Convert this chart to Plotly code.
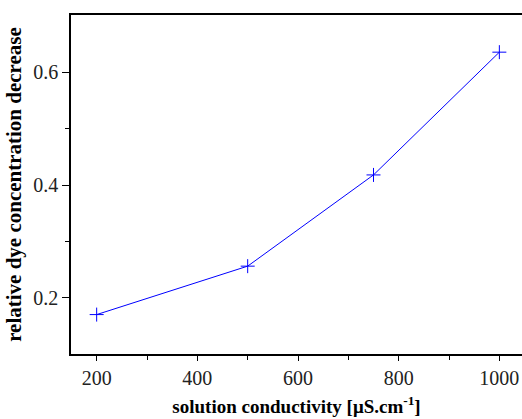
import plotly.graph_objects as go

conductivity = [200, 500, 750, 1000]
dye_decrease = [0.170, 0.256, 0.418, 0.636]

x_major = [200, 400, 600, 800, 1000]
y_major = [0.2, 0.4, 0.6]

fig = go.Figure()
fig.add_trace(go.Scatter(
    x=conductivity, y=dye_decrease, mode="lines+markers",
    line=dict(color="#0000ff", width=1),
    marker=dict(symbol="cross-thin", size=10, line=dict(color="#0000ff", width=1)),
    showlegend=False,
))

font = "Liberation Serif, Times New Roman, serif"
fig.update_layout(
    width=522, height=419,
    margin=dict(l=71, r=0, t=15, b=65),
    paper_bgcolor="white", plot_bgcolor="white",
    font=dict(family=font, color="#222222"),
)
fig.update_xaxes(
    range=[149, 1045], tickvals=x_major, ticktext=[str(v) for v in x_major],
    ticks="outside", ticklen=5, tickwidth=1.2, tickcolor="black",
    showline=True, linecolor="black", linewidth=1.5, mirror=True,
    showgrid=False, zeroline=False,
    tickfont=dict(size=20, family=font, color="#222222"),
    minor=dict(tickvals=[300, 500, 700, 900], ticks="outside", ticklen=4, tickcolor="black", tickwidth=1.2),
    title=dict(text="<b>solution conductivity [μS.cm<sup>-1</sup>]</b>",
               font=dict(size=19, family=font, color="black"), standoff=12),
)
fig.update_yaxes(
    range=[0.1, 0.702], tickvals=y_major, ticktext=["0.2", "0.4", "0.6"],
    ticks="outside", ticklen=7, tickwidth=1.2, tickcolor="black",
    showline=True, linecolor="black", linewidth=1.5, mirror=False,
    showgrid=False, zeroline=False,
    tickfont=dict(size=20, family=font, color="#222222"),
    minor=dict(tickvals=[0.3, 0.5], ticks="outside", ticklen=4, tickcolor="black", tickwidth=1.2),
    title=dict(text="<b>relative dye concentration decrease</b>",
               font=dict(size=21, family=font, color="black"), standoff=6),
)
fig.write_html("out.html")
